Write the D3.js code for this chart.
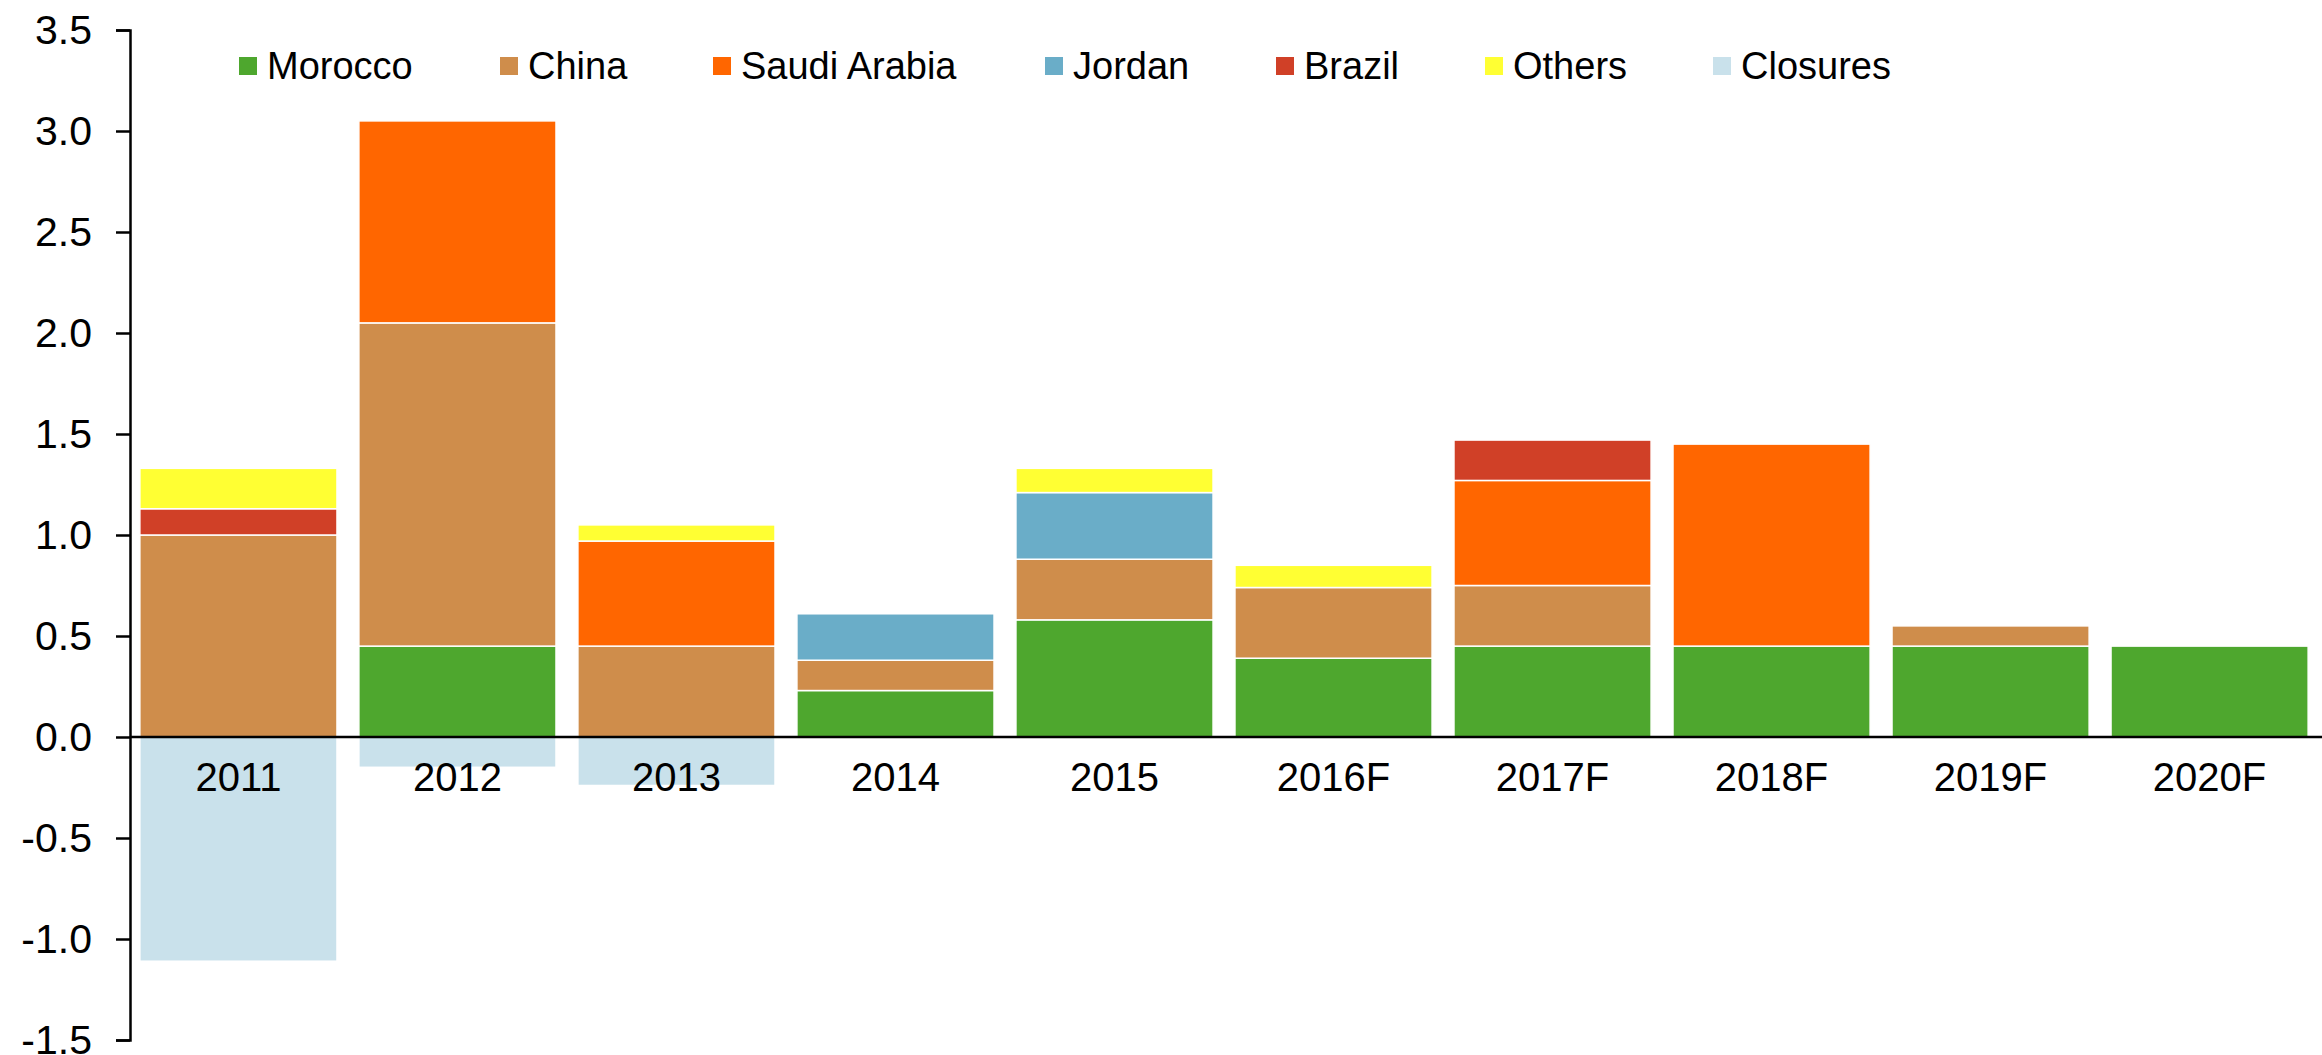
<!DOCTYPE html>
<html>
<head>
<meta charset="utf-8">
<script src="https://cdn.jsdelivr.net/npm/d3@7"></script>
<style>
  body { margin: 0; background: #fff; }
  text { font-family: "Liberation Sans", Arial, sans-serif; fill: #000; }
</style>
</head>
<body>
<div id="container"></div>
<script>
let width = 2322;
let height = 1055;

// data
let years = ["2011", "2012", "2013", "2014", "2015", "2016F", "2017F", "2018F", "2019F", "2020F"];
let morocco  = [0, 0.45, 0, 0.23, 0.58, 0.39, 0.45, 0.45, 0.45, 0.45];
let china    = [1.0, 1.6, 0.45, 0.15, 0.30, 0.35, 0.30, 0, 0.10, 0];
let saudi    = [0, 1.0, 0.52, 0, 0, 0, 0.52, 1.0, 0, 0];
let jordan   = [0, 0, 0, 0.23, 0.33, 0, 0, 0, 0, 0];
let brazil   = [0.13, 0, 0, 0, 0, 0, 0.20, 0, 0, 0];
let others   = [0.20, 0, 0.08, 0, 0.12, 0.11, 0, 0, 0, 0];
let closures = [-1.11, -0.15, -0.24, 0, 0, 0, 0, 0, 0, 0];
let yTicks = [-1.5, -1.0, -0.5, 0, 0.5, 1.0, 1.5, 2.0, 2.5, 3.0, 3.5];

let keys = ["Morocco", "China", "Saudi Arabia", "Jordan", "Brazil", "Others", "Closures"];
let series = [morocco, china, saudi, jordan, brazil, others, closures];
let colors = ["#4ea72e", "#cf8d4b", "#ff6600", "#6aadc8", "#d04027", "#ffff33", "#c9e1eb"];
let legendX = [239, 500, 713, 1045, 1276, 1485, 1713];

let table = years.map((y, i) => {
    let row = { year: y };
    keys.forEach((k, j) => { row[k] = series[j][i]; });
    return row;
});

let svg = d3.select("#container")
    .append("svg")
    .attr("width", width)
    .attr("height", height);

let axisX = 130;

let x = d3.scaleBand()
    .domain(years)
    .range([axisX, 2318])
    .paddingInner(0.1)
    .paddingOuter(0.045);

let y = d3.scaleLinear()
    .domain([-1.5, 3.5])
    .range([1040, 30]);

let color = d3.scaleOrdinal().domain(keys).range(colors);

let stacked = d3.stack()
    .keys(keys)
    .offset(d3.stackOffsetDiverging)(table);

svg.append("g")
    .selectAll("g")
    .data(stacked)
    .enter()
    .append("g")
    .attr("fill", d => color(d.key))
    .selectAll("rect")
    .data(d => d.filter(s => s[1] - s[0] !== 0))
    .enter()
    .append("rect")
    .attr("x", d => x(d.data.year))
    .attr("width", x.bandwidth())
    .attr("y", d => y(Math.max(d[0], d[1])))
    .attr("height", d => Math.abs(y(d[0]) - y(d[1])))
    .attr("stroke", "#fff")
    .attr("stroke-width", 1.5);

// y axis
let yAxis = svg.append("g")
    .attr("transform", `translate(${axisX},0)`)
    .call(d3.axisLeft(y)
        .tickValues(yTicks)
        .tickSize(14)
        .tickPadding(24)
        .tickFormat(d => d.toFixed(1)));
yAxis.select(".domain").attr("stroke", "#000").attr("stroke-width", 2.5);
yAxis.selectAll(".tick line").attr("stroke", "#000").attr("stroke-width", 2.5);
yAxis.selectAll(".tick text")
    .attr("font-size", 41)
    .attr("font-family", "Liberation Sans, Arial, sans-serif");

// zero line
svg.append("line")
    .attr("x1", axisX)
    .attr("x2", width)
    .attr("y1", y(0))
    .attr("y2", y(0))
    .attr("stroke", "#000")
    .attr("stroke-width", 2.5);

// x labels
svg.selectAll(".xlabel")
    .data(years)
    .enter()
    .append("text")
    .attr("class", "xlabel")
    .attr("x", d => x(d) + x.bandwidth() / 2)
    .attr("y", y(0) + 54)
    .attr("text-anchor", "middle")
    .attr("font-size", 40)
    .text(d => d);

// legend
let legend = svg.selectAll(".legend")
    .data(keys)
    .enter()
    .append("g")
    .attr("class", "legend")
    .attr("transform", (d, i) => `translate(${legendX[i]},0)`);

legend.append("rect")
    .attr("x", 0)
    .attr("y", 57)
    .attr("width", 18)
    .attr("height", 18)
    .attr("fill", d => color(d));

legend.append("text")
    .attr("x", 28)
    .attr("y", 79)
    .attr("font-size", 38)
    .text(d => d);
</script>
</body>
</html>
